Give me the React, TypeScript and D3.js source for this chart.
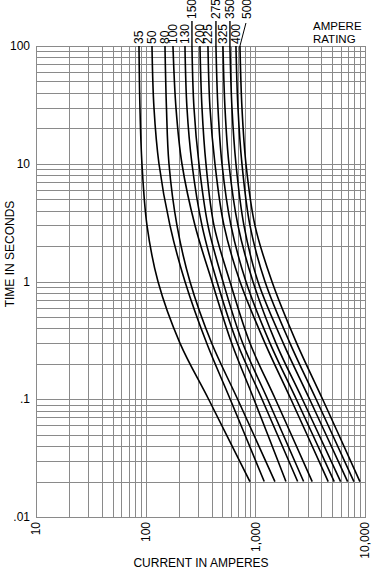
import React from "react";
import * as d3 from "d3";

const W = 377;
const H = 570;

// Time points (seconds) at which each curve's current was read
const times = [100, 30, 10, 3, 1, 0.3, 0.1, 0.02];

// Current (amperes) for each fuse rating at the times above
const amps35 = [86.9, 88.7, 92.5, 102.8, 129.5, 205.4, 375, 893];
const amps50 = [114.2, 119.0, 132.2, 166.5, 228.2, 359.8, 590, 1205];
const amps80 = [150.0, 154.7, 163.1, 192.9, 253.4, 399.6, 690, 1509];
const amps100 = [177.4, 188.9, 214.2, 281.5, 402.1, 608.1, 971, 1901];
const amps130 = [228.2, 237.9, 264.3, 326.1, 446.7, 684.1, 1151, 2431];
const amps150 = [264.3, 275.6, 306.2, 369.8, 506.7, 766.1, 1295, 2756];
const amps200 = [312.6, 326.1, 354.6, 419.4, 586.7, 892.9, 1525, 3302];
const amps225 = [369.8, 385.7, 428.4, 517.4, 724, 1224, 2112, 4618];
const amps275 = [437.4, 456.1, 496.2, 599.3, 821.1, 1359, 2365, 5240];
const amps325 = [506.7, 528.4, 574.5, 694.2, 951, 1541, 2688, 5992];
const amps350 = [586.7, 612.0, 665.6, 787.2, 1056, 1797, 3127, 6942];
const amps400 = [665.6, 694.2, 754.9, 892.9, 1224, 2068, 3584, 7922];
const amps500 = [724, 754.9, 821.1, 991.8, 1417, 2380, 4108, 8988];

const ratings = ["35", "50", "80", "100", "130", "150", "200", "225", "275", "325", "350", "400", "500"];
const ampSeries = [amps35, amps50, amps80, amps100, amps130, amps150, amps200, amps225, amps275, amps325, amps350, amps400, amps500];
// ratings whose labels sit on the upper row
const raisedLabels = ["150", "275", "350", "500"];

const xTicks = [10, 100, 1000, 10000];
const xTickLabels = ["10", "100", "1,000", "10,000"];
const yTicks = [0.01, 0.1, 1, 10, 100];
const yTickLabels = [".01", ".1", "1", "10", "100"];

const FONT = "'Liberation Sans', Arial, sans-serif";

export default function App() {
  const left = 36, right = 365, top = 46, bottom = 517;
  const x = d3.scaleLog().domain([10, 10000]).range([left, right]);
  const y = d3.scaleLog().domain([0.01, 100]).range([bottom, top]);

  const vGrid: number[] = [];
  [10, 100, 1000].forEach((d) => { for (let k = 1; k <= 9; k++) vGrid.push(k * d); });
  vGrid.push(10000);
  const hGrid: number[] = [];
  [0.01, 0.1, 1, 10].forEach((d) => { for (let k = 1; k <= 9; k++) hGrid.push(k * d); });
  hGrid.push(100);

  const line = d3
    .line<{ I: number; t: number }>()
    .x((d) => x(d.I))
    .y((d) => y(d.t))
    .curve(d3.curveCatmullRom.alpha(0.5));

  const gridColor = "#8a8a8a";

  return (
    <svg width={W} height={H} style={{ position: "absolute", left: 0, top: 0, background: "#fff" }} fontFamily={FONT}>
      <rect x={0} y={0} width={W} height={H} fill="#fff" />
      {vGrid.map((v, i) => (
        <line key={"v" + i} x1={Math.round(x(v)) + 0.5} x2={Math.round(x(v)) + 0.5} y1={top} y2={bottom} stroke={gridColor} strokeWidth={1} />
      ))}
      {hGrid.map((v, i) => (
        <line key={"h" + i} x1={left} x2={right + 1} y1={Math.round(y(v)) + 0.5} y2={Math.round(y(v)) + 0.5} stroke={gridColor} strokeWidth={1} />
      ))}
      {ampSeries.map((arr, i) => {
        const pts = arr.map((I, j) => ({ I, t: times[j] }));
        return <path key={"c" + i} d={line(pts) || ""} fill="none" stroke="#000" strokeWidth={1.6} />;
      })}
      {ratings.map((r, i) => {
        const xc = x(ampSeries[i][0]);
        const raised = raisedLabels.includes(r);
        if (r === "500") {
          const lx = xc + 6.5;
          return (
            <g key={"l" + i}>
              <line x1={xc + 6} y1={23} x2={xc} y2={top} stroke="#000" strokeWidth={1} />
              <text transform={`translate(${lx + 4.2},${19}) rotate(-90)`} fontSize={12} fill="#000">{r}</text>
            </g>
          );
        }
        return (
          <g key={"l" + i}>
            {raised && <line x1={xc} x2={xc} y1={21} y2={top} stroke="#000" strokeWidth={1.4} />}
            <text transform={`translate(${xc + 4.2},${raised ? 19 : 44}) rotate(-90)`} fontSize={12} fill="#000">{r}</text>
          </g>
        );
      })}
      {yTicks.map((v, i) => (
        <text key={"yt" + i} x={30} y={y(v) + 4} textAnchor="end" fontSize={12} fill="#000">{yTickLabels[i]}</text>
      ))}
      {xTicks.map((v, i) => (
        <text key={"xt" + i} transform={`translate(${x(v) + 4.2},${522}) rotate(-90)`} textAnchor="end" fontSize={12} fill="#000">{xTickLabels[i]}</text>
      ))}
      <text transform={`translate(14,${254}) rotate(-90)`} textAnchor="middle" fontSize={12} fill="#000">TIME IN SECONDS</text>
      <text x={201} y={567} textAnchor="middle" fontSize={12} fill="#000">CURRENT IN AMPERES</text>
      <text x={313} y={30.2} fontSize={11.5} fill="#000">AMPERE</text>
      <text x={313} y={43.4} fontSize={11.5} fill="#000">RATING</text>
    </svg>
  );
}
